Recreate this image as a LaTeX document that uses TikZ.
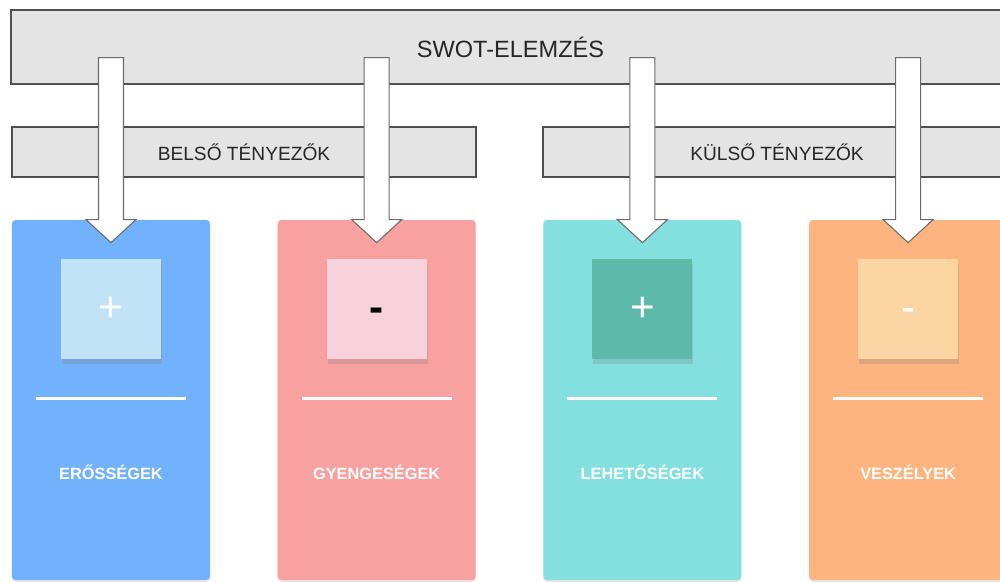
\documentclass[tikz,border=0pt]{standalone}
\usepackage{fontspec}
\setmainfont{Liberation Sans}
\usetikzlibrary{positioning,calc,shadows}
\definecolor{boxgrey}{HTML}{E4E4E4}
\definecolor{boxedge}{HTML}{505050}
\definecolor{arrowedge}{HTML}{6A6A6A}
\definecolor{cblue}{HTML}{72B1FB}
\definecolor{sblue}{HTML}{C2E2F6}
\definecolor{cpink}{HTML}{F9A0A0}
\definecolor{spink}{HTML}{F7D1DC}
\definecolor{ccyan}{HTML}{84E0DF}
\definecolor{steal}{HTML}{5DB9A9}
\definecolor{corange}{HTML}{FDB47F}
\definecolor{speach}{HTML}{FBD6A2}
\tikzset{
  headbox/.style={draw=boxedge, fill=boxgrey, line width=0.8pt, inner sep=0pt, text=black!85},
  card/.style={rounded corners=2pt, minimum width=3.96cm, minimum height=7.2cm, inner sep=0pt,
    drop shadow={opacity=0.2, shadow xshift=0pt, shadow yshift=-1pt}},
  sign/.style={minimum size=2cm, inner sep=0pt, font=\fontsize{24}{26}\selectfont,
    drop shadow={opacity=0.25, shadow xshift=0.5pt, shadow yshift=-3pt}},
  cardline/.style={draw=white, line width=1.6pt},
  cardtext/.style={text=white, font=\bfseries\fontsize{9.3}{11}\selectfont},
  blockarrow/.style={draw=arrowedge, fill=white, line width=0.6pt, line join=miter}
}
\begin{document}
\begin{tikzpicture}
  \useasboundingbox (0,0) rectangle (20,-11.66);
  \clip (0,0) rectangle (20,-11.66);
  \node[headbox, minimum width=19.98cm, minimum height=1.48cm, font=\fontsize{13.4}{16}\selectfont]
    (swot) at (10.21,-0.94) {SWOT-ELEMZÉS};
  \node[headbox, minimum width=9.28cm, minimum height=1cm, font=\fontsize{10.9}{13}\selectfont]
    (belso) at (4.88,-3.04) {BELSŐ TÉNYEZŐK};
  \node[headbox, minimum width=9.36cm, minimum height=1cm, font=\fontsize{10.9}{13}\selectfont]
    (kulso) at (15.54,-3.04) {KÜLSŐ TÉNYEZŐK};
  \node[card, fill=cblue] (c1) at (2.22,-8.0) {};
  \node[card, fill=cpink, right=1.34cm of c1] (c2) {};
  \node[card, fill=ccyan, right=1.34cm of c2] (c3) {};
  \node[card, fill=corange, right=1.34cm of c3] (c4) {};
  \node[sign, fill=sblue, text=white, below=0.78cm of c1.north] (s1) {\vphantom{+}+};
  \node[sign, fill=spink, text=black, below=0.78cm of c2.north] (s2) {\vphantom{+}\textbf{-}};
  \node[sign, fill=steal, text=white, below=0.78cm of c3.north] (s3) {\vphantom{+}+};
  \node[sign, fill=speach, text=white, below=0.78cm of c4.north] (s4) {\vphantom{+}-};
  \foreach \c in {c1,c2,c3,c4}
    \draw[cardline] ($(\c.north)+(-1.5,-3.58)$) -- ++(3,0);
  \node[cardtext] (t1) at ($(c1.north)+(0,-5.06)$) {ERŐSSÉGEK};
  \node[cardtext] (t2) at ($(c2.north)+(0,-5.06)$) {GYENGESÉGEK};
  \node[cardtext] (t3) at ($(c3.north)+(0,-5.06)$) {LEHETŐSÉGEK};
  \node[cardtext] (t4) at ($(c4.north)+(0,-5.06)$) {VESZÉLYEK};
  \foreach \c in {c1,c2,c3,c4}
    \draw[blockarrow] ($(\c.north)+(0,-0.46)$) -- ++(0.5,0.46) -- ++(-0.25,0) -- ++(0,3.24)
      -- ++(-0.5,0) -- ++(0,-3.24) -- ++(-0.25,0) -- cycle;
\end{tikzpicture}
\end{document}
